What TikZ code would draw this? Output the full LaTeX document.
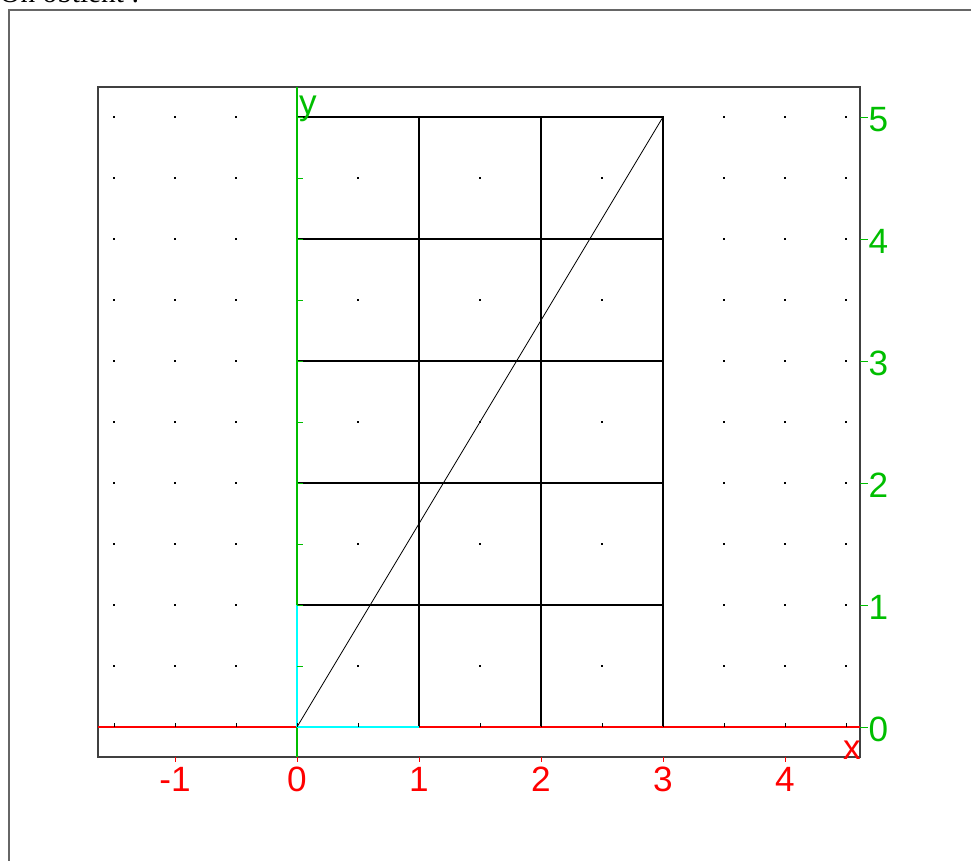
\documentclass[tikz,border=0pt]{standalone}
\usepackage{fontspec}
\setmainfont{Liberation Serif}
\setsansfont{Liberation Sans}
\definecolor{axisred}{RGB}{255,0,0}
\definecolor{axisgreen}{RGB}{0,190,0}
\definecolor{partcyan}{RGB}{0,255,255}

\begin{document}
\begin{tikzpicture}[x=3.66cm, y=3.66cm,
   frame/.style={draw=black!75, line width=1pt},
   gridline/.style={black, line width=0.9pt},
   dotmark/.style={fill=black},
   xlab/.style={text=axisred, inner sep=0pt, font=\sffamily\fontsize{30}{30}\selectfont},
   ylab/.style={text=axisgreen, inner sep=0pt, font=\sffamily\fontsize{30}{30}\selectfont}]

\useasboundingbox (-2.4344,-1.0902) rectangle (5.5246,5.959);

% page text and outer frame
\node[anchor=base west, inner sep=0pt, font=\fontsize{25}{25}\selectfont] (title) at (-2.44,5.935) {On obtient :};
\draw[draw=black!60, line width=1pt] (-2.3607,-1.5) rectangle (6,5.877);

% dotted background
\foreach \x in {-1.5,-1,...,4.5}
  \foreach \y in {0.5,1,...,5.01}
    \fill[dotmark] (\x,\y) +(-1pt,-1pt) rectangle +(1pt,1pt);

% plot box
\draw[frame] (-1.631,-0.246) rectangle (4.615,5.246);

% rectangles 3 x 5
\foreach \x in {1,2,3}
  \draw[gridline] (\x,0) -- (\x,5);
\foreach \y in {1,...,5}
  \draw[gridline] (0,\y) -- (3,\y);
\draw[black, line width=0.7pt] (0,0) -- (3,5);

% axes
\draw[axisred, line width=1pt] (-1.631,0) -- (4.615,0);
\draw[axisgreen, line width=1pt] (0,-0.246) -- (0,5.246);
\draw[partcyan, line width=1pt] (0,0) -- (1,0);
\draw[partcyan, line width=1pt] (0,0) -- (0,1);

% ticks
\foreach \x in {-1.5,-1,...,4.5}
  \draw[black, line width=0.8pt] (\x,0) -- ++(0,3pt);
\foreach \y in {0.5,1,...,5.01}
  \draw[axisgreen, line width=0.8pt] (0,\y) -- ++(5pt,0);

% graduations
\foreach \x in {-1,...,4}
  \draw[axisred, line width=0.8pt] (\x,-0.246) -- ++(0,-4pt)
    node[xlab, anchor=north, yshift=-4pt] (xlab\x) {\x};
\foreach \y in {0,...,5}
  \draw[axisgreen, line width=0.8pt] (4.615,\y) -- ++(7pt,0)
    node[ylab, anchor=west, yshift=-2pt] (ylab\y) {\y};

\node[xlab] (xname) at (4.549,-0.19) {x};
\node[ylab] (yname) at (0.09,5.065) {y};

\end{tikzpicture}
\end{document}
